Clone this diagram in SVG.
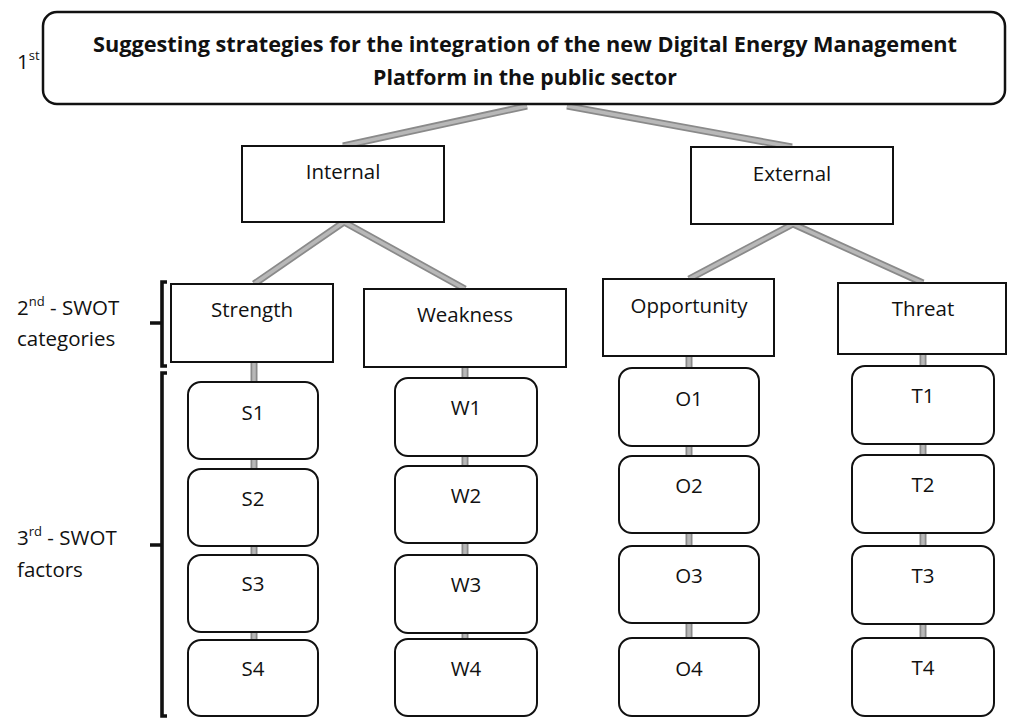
<svg xmlns="http://www.w3.org/2000/svg" width="1009" height="718" viewBox="0 0 1009 718">
<style>
.bg{fill:#ffffff}
.box{fill:#ffffff;stroke:#111111;stroke-width:2}
.rbox{fill:#ffffff;stroke:#111111;stroke-width:2}
.title{fill:#ffffff;stroke:#111111;stroke-width:2.5}
.lbl{font-family:"Open Sans","Liberation Sans",sans-serif;font-size:20.5px;fill:#111111;text-anchor:middle}
.side{font-family:"Open Sans","Liberation Sans",sans-serif;font-size:20.5px;fill:#111111}
.sup{font-size:13px}
.ttl{font-family:"Open Sans","Liberation Sans",sans-serif;font-size:20.5px;font-weight:bold;fill:#111111}
.cOut{fill:none;stroke:#8a8a8a;stroke-width:7;stroke-linecap:butt}
.cIn{fill:none;stroke:#b8b8b8;stroke-width:3.5;stroke-linecap:butt}
.brk{fill:none;stroke:#111111;stroke-width:3.6;stroke-linejoin:miter}
</style>
<rect class="bg" x="0" y="0" width="1009" height="718"/>

<g id="connectors">
  <path class="cOut" d="M527,106 L343,146 M567,106 L792,147 M344,222 L254,284 M344,222 L465,289 M793,224 L689,279 M793,224 L923,283 M254,362 V717 M465,367 V717 M689,356 V716 M923,354 V716"/>
  <path class="cIn" d="M527,106 L343,146 M567,106 L792,147 M344,222 L254,284 M344,222 L465,289 M793,224 L689,279 M793,224 L923,283 M254,362 V717 M465,367 V717 M689,356 V716 M923,354 V716"/>
</g>

<g id="brackets">
  <path class="brk" d="M167,282 H162 V366 H167 M162,323 H150"/>
  <path class="brk" d="M167,373 H162 V716 H167 M162,545 H150"/>
</g>

<g id="level-labels">
  <text class="side" x="17" y="69">1<tspan class="sup" dy="-9">st</tspan></text>
  <text class="side" x="17" y="315">2<tspan class="sup" dy="-9">nd</tspan><tspan dy="9"> - SWOT</tspan></text>
  <text class="side" x="17" y="346">categories</text>
  <text class="side" x="17" y="545">3<tspan class="sup" dy="-9">rd</tspan><tspan dy="9"> - SWOT</tspan></text>
  <text class="side" x="17" y="577">factors</text>
</g>

<g id="goal">
  <rect class="title" x="43" y="12" width="962" height="92" rx="14"/>
  <text class="ttl" x="93" y="52" textLength="864" lengthAdjust="spacingAndGlyphs">Suggesting strategies for the integration of the new Digital Energy Management</text>
  <text class="ttl" x="373" y="85" textLength="304" lengthAdjust="spacingAndGlyphs">Platform in the public sector</text>
</g>

<g id="internal">
  <rect class="box" x="242" y="146" width="202" height="76"/>
  <text class="lbl" x="343" y="179">Internal</text>
</g>
<g id="external">
  <rect class="box" x="691" y="147" width="202" height="77"/>
  <text class="lbl" x="792" y="181">External</text>
</g>

<g id="strength">
  <rect class="box" x="171" y="284" width="162" height="78"/>
  <text class="lbl" x="252" y="317">Strength</text>
</g>
<g id="weakness">
  <rect class="box" x="364" y="289" width="202" height="78"/>
  <text class="lbl" x="465" y="322">Weakness</text>
</g>
<g id="opportunity">
  <rect class="box" x="603" y="279" width="171" height="77"/>
  <text class="lbl" x="689" y="313">Opportunity</text>
</g>
<g id="threat">
  <rect class="box" x="838" y="283" width="168" height="71"/>
  <text class="lbl" x="923" y="316">Threat</text>
</g>

<g id="S1"><rect class="rbox" x="188" y="382" width="130" height="77" rx="13"/><text class="lbl" x="253" y="420">S1</text></g>
<g id="S2"><rect class="rbox" x="188" y="469" width="130" height="77" rx="13"/><text class="lbl" x="253" y="506">S2</text></g>
<g id="S3"><rect class="rbox" x="188" y="555" width="130" height="77" rx="13"/><text class="lbl" x="253" y="591">S3</text></g>
<g id="S4"><rect class="rbox" x="188" y="640" width="130" height="76" rx="13"/><text class="lbl" x="253" y="676">S4</text></g>

<g id="W1"><rect class="rbox" x="395" y="378" width="142" height="78" rx="13"/><text class="lbl" x="466" y="415">W1</text></g>
<g id="W2"><rect class="rbox" x="395" y="466" width="142" height="77" rx="13"/><text class="lbl" x="466" y="503">W2</text></g>
<g id="W3"><rect class="rbox" x="395" y="555" width="142" height="78" rx="13"/><text class="lbl" x="466" y="592">W3</text></g>
<g id="W4"><rect class="rbox" x="395" y="639" width="142" height="77" rx="13"/><text class="lbl" x="466" y="676">W4</text></g>

<g id="O1"><rect class="rbox" x="619" y="368" width="140" height="78" rx="13"/><text class="lbl" x="689" y="406">O1</text></g>
<g id="O2"><rect class="rbox" x="619" y="456" width="140" height="77" rx="13"/><text class="lbl" x="689" y="493">O2</text></g>
<g id="O3"><rect class="rbox" x="619" y="546" width="140" height="77" rx="13"/><text class="lbl" x="689" y="583">O3</text></g>
<g id="O4"><rect class="rbox" x="619" y="638" width="140" height="78" rx="13"/><text class="lbl" x="689" y="676">O4</text></g>

<g id="T1"><rect class="rbox" x="852" y="366" width="142" height="78" rx="13"/><text class="lbl" x="923" y="403">T1</text></g>
<g id="T2"><rect class="rbox" x="852" y="455" width="142" height="78" rx="13"/><text class="lbl" x="923" y="492">T2</text></g>
<g id="T3"><rect class="rbox" x="852" y="546" width="142" height="78" rx="13"/><text class="lbl" x="923" y="583">T3</text></g>
<g id="T4"><rect class="rbox" x="852" y="638" width="142" height="78" rx="13"/><text class="lbl" x="923" y="675">T4</text></g>
</svg>
